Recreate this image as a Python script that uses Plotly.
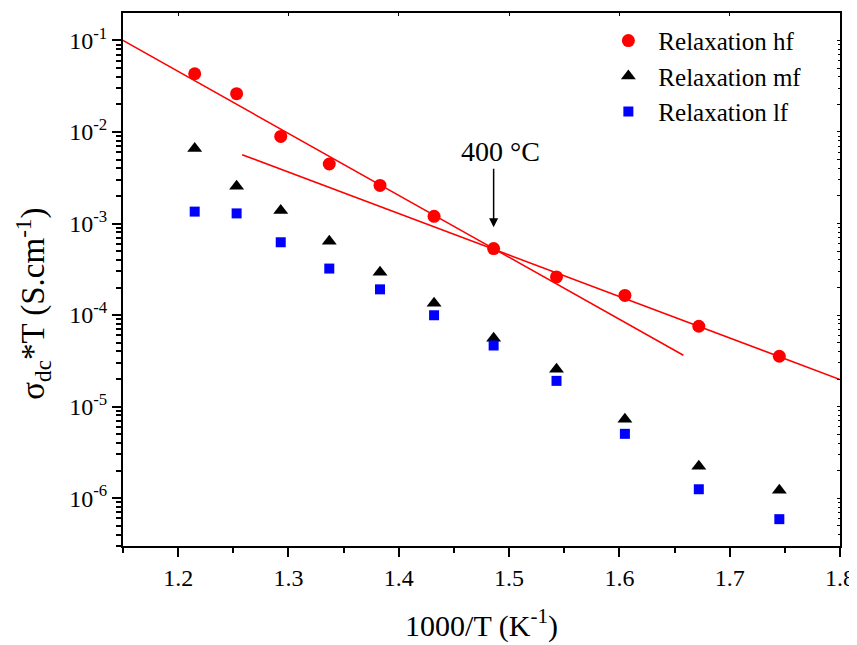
"""Arrhenius plot of sigma_dc*T for the three relaxations."""
import plotly.graph_objects as go

# 1000/T (K^-1), measurements from 550 C down to 300 C in 25 C steps
inv_t = [1.215, 1.253, 1.293, 1.337, 1.383, 1.432, 1.486, 1.543, 1.605, 1.672, 1.745]

sigma_hf = [4.33e-2, 2.62e-2, 8.95e-3, 4.47e-3, 2.61e-3, 1.20e-3,
            5.32e-4, 2.61e-4, 1.64e-4, 7.55e-5, 3.55e-5]
sigma_mf = [6.62e-3, 2.55e-3, 1.39e-3, 6.40e-4, 2.93e-4, 1.35e-4,
            5.58e-5, 2.56e-5, 7.28e-6, 2.23e-6, 1.22e-6]
sigma_lf = [1.35e-3, 1.29e-3, 6.24e-4, 3.22e-4, 1.91e-4, 9.95e-5,
            4.65e-5, 1.91e-5, 5.04e-6, 1.25e-6, 5.89e-7]

# linear fits (end points)
fit_high_x = [1.15, 1.658]
fit_high_y = [1.0e-1, 3.64e-5]
fit_low_x = [1.258, 1.80]
fit_low_y = [5.65e-3, 1.98e-5]

y_tick_exp = [-1, -2, -3, -4, -5, -6]

RED = "#ff0000"
BLACK = "#000000"
BLUE = "#0000ff"
FONT = "Liberation Serif, Times New Roman, serif"

fig = go.Figure()

for fx, fy in [(fit_high_x, fit_high_y), (fit_low_x, fit_low_y)]:
    fig.add_trace(go.Scatter(x=fx, y=fy, mode="lines", line=dict(color=RED, width=1.5),
                             showlegend=False, hoverinfo="skip"))

fig.add_trace(go.Scatter(x=inv_t, y=sigma_hf, mode="markers", name="Relaxation hf",
                         marker=dict(symbol="circle", size=13, color=RED)))
fig.add_trace(go.Scatter(x=inv_t, y=sigma_mf, mode="markers", name="Relaxation mf",
                         marker=dict(symbol="triangle-up", size=13, color=BLACK)))
fig.add_trace(go.Scatter(x=inv_t, y=sigma_lf, mode="markers", name="Relaxation lf",
                         marker=dict(symbol="square", size=10, color=BLUE)))

# invisible trace so the mirrored top/right axes get drawn
fig.add_trace(go.Scatter(x=[1.5], y=[1e-3], xaxis="x2", yaxis="y2", mode="markers",
                         marker=dict(opacity=0), showlegend=False, hoverinfo="skip"))

x_range = [1.15, 1.80]
y_range = [-6.523, -0.70]

# the page body adds an 8px offset, so the figure is 8px smaller each way
fig.update_layout(
    width=849,
    height=637,
    paper_bgcolor="white",
    plot_bgcolor="white",
    font=dict(family=FONT, color="black", size=24),
    margin=dict(l=115, r=17, t=5, b=99),
    xaxis=dict(
        range=x_range, dtick=0.1, tick0=1.2, tickformat=".1f", automargin=False,
        showgrid=False, zeroline=False,
        showline=True, linecolor="black", linewidth=2,
        ticks="outside", ticklen=9, tickwidth=2, tickcolor="black",
        minor=dict(ticks="outside", ticklen=5, tickwidth=1.5, tickcolor="black", dtick=0.05, tick0=1.15),
        tickfont=dict(size=24),
        title=dict(text="1000/T (K<sup>-1</sup>)", font=dict(size=30), standoff=25),
    ),
    yaxis=dict(
        type="log", range=y_range, automargin=False,
        tickvals=[10 ** e for e in y_tick_exp],
        ticktext=[f"10<sup>{e}</sup>" for e in y_tick_exp],
        showgrid=False, zeroline=False,
        showline=True, linecolor="black", linewidth=2,
        ticks="outside", ticklen=9, tickwidth=2, tickcolor="black",
        minor=dict(ticks="outside", ticklen=5, tickwidth=1.5, tickcolor="black", dtick="D1"),
        tickfont=dict(size=24),
    ),
    xaxis2=dict(
        overlaying="x", side="top", range=x_range, dtick=0.1, tick0=1.2, automargin=False,
        showticklabels=False, showgrid=False, zeroline=False,
        showline=True, linecolor="black", linewidth=2,
        ticks="inside", ticklen=3, tickwidth=1, tickcolor="black",
    ),
    yaxis2=dict(
        overlaying="y", side="right", type="log", range=y_range, automargin=False,
        showticklabels=False, showgrid=False, zeroline=False,
        showline=True, linecolor="black", linewidth=2,
        ticks="inside", ticklen=3, tickwidth=1, tickcolor="black",
        minor=dict(ticks="inside", ticklen=2, tickwidth=1, tickcolor="black", dtick="D1"),
    ),
    legend=dict(
        x=0.663, y=0.991, xanchor="left", yanchor="top",
        bgcolor="rgba(0,0,0,0)", font=dict(size=25), itemwidth=50,
        tracegroupgap=0,
    ),
    annotations=[
        # y axis title, placed a little below the axis centre as in the original
        dict(x=-0.126, y=0.454, xref="paper", yref="paper", xanchor="center", yanchor="middle",
             text="σ<sub>dc</sub>*T (S.cm<sup>-1</sup>)", textangle=-90, showarrow=False,
             font=dict(size=33, family=FONT, color="black")),
        dict(x=1.486, y=-3.041, xref="x", yref="y", text="", showarrow=True,
             font=dict(size=1), ax=0, ay=-60, arrowhead=2, arrowsize=1.2,
             arrowwidth=1.5, arrowcolor="black"),
        dict(x=1.492, y=-2.217, xref="x", yref="y", text="400 °C", showarrow=False,
             font=dict(size=28, family=FONT, color="black")),
    ],
)

fig.write_html("out.html")
